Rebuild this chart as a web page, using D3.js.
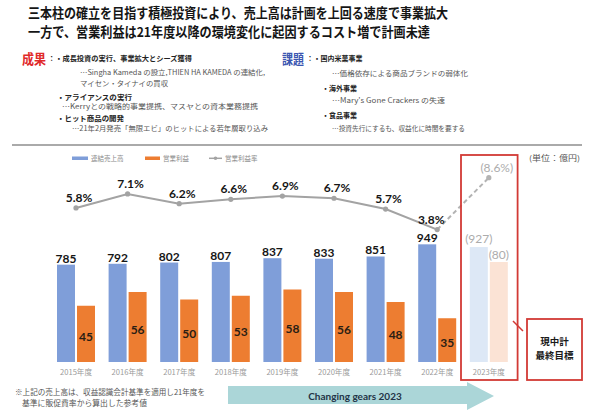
<!DOCTYPE html>
<html lang="ja">
<head>
  <meta charset="UTF-8">
  <title>売上高・営業利益の推移</title>
  <script src="https://cdn.jsdelivr.net/npm/d3@7"></script>
  <style>
    html, body { margin: 0; padding: 0; background: #fff; }
  </style>
</head>
<body>
<div id="grafica"></div>

<script>
// datos
const years     = ['2015年度', '2016年度', '2017年度', '2018年度', '2019年度', '2020年度', '2021年度', '2022年度', '2023年度']
const sales     = [785, 792, 802, 807, 837, 833, 851, 949, 927]
const opProfit  = [45, 56, 50, 53, 58, 56, 48, 35, 80]
const opMargin  = [5.8, 7.1, 6.2, 6.6, 6.9, 6.7, 5.7, 3.8, 8.6]
const planYear  = '2023年度'
const legendLabels = ['連結売上高', '営業利益', '営業利益率']

const jp  = '"Noto Sans CJK JP", "Noto Sans", sans-serif'
const num = 'Lato, "Liberation Sans", sans-serif'

const colBlue = '#7f9ed9', colOrange = '#ed7d31'
const colBlueLight = '#dde8f6', colOrangeLight = '#fbe3d5'
const colLine = '#a3a3a3', colRed = '#d23a35'

svg = d3.select('#grafica')
  .append('svg')
  .attr('width', 590)
  .attr('height', 411)
  .style('display', 'block')

function txt(x, y, s, size, weight, fill, len, family) {
  const t = svg.append('text')
    .attr('x', x).attr('y', y)
    .attr('font-family', family || jp)
    .attr('font-size', size)
    .attr('font-weight', weight)
    .attr('fill', fill)
    .text(s)
  if (len) t.attr('textLength', len).attr('lengthAdjust', 'spacingAndGlyphs')
  return t
}

// header
txt(28, 18, '三本柱の確立を目指す積極投資により、売上高は計画を上回る速度で事業拡大', 13.5, 700, '#151515', 420)
txt(28, 37, '一方で、営業利益は21年度以降の環境変化に起因するコスト増で計画未達', 13.5, 700, '#151515', 402)

txt(22, 64, '成果', 13.5, 700, '#e02a2a', 24)
txt(48, 61, '：・成長投資の実行、事業拡大とシーズ獲得', 7.3, 700, '#222', 144)
txt(80, 75, '…Singha Kameda の設立,THIEN HA KAMEDA の連結化,', 7.2, 400, '#555', 185)
txt(80, 86, 'マイセン・タイナイの買収', 7.3, 400, '#555', 88)
txt(57, 100, '・アライアンスの実行', 7.3, 700, '#222', 75)
txt(62, 109, '…Kerryとの戦略的事業提携、マスヤとの資本業務提携', 7.2, 400, '#555', 196)
txt(57, 121, '・ヒット商品の開発', 7.3, 700, '#222', 67)
txt(72, 131, '…21年2月発売「無限エビ」のヒットによる若年層取り込み', 7.2, 400, '#555', 196)

txt(282, 64, '課題', 13.5, 700, '#3a56b0', 22)
txt(306.5, 61, '：・国内米菓事業', 7.3, 700, '#222', 56)
txt(332, 76, '…価格依存による商品ブランドの弱体化', 7.2, 400, '#555', 136)
txt(322, 91, '・海外事業', 7.3, 700, '#222', 35)
txt(332, 103, '…Mary\'s Gone Crackers の失速', 7.2, 400, '#555', 113)
txt(322, 118, '・食品事業', 7.3, 700, '#222', 35)
txt(332, 131, '…投資先行にするも、収益化に時間を要する', 7.2, 400, '#555', 133)

svg.append('line')
  .attr('x1', 12).attr('x2', 582).attr('y1', 145).attr('y2', 145)
  .attr('stroke', '#8e8e8e').attr('stroke-width', 1.6)

// legend
const lg = svg.append('g').attr('font-family', jp).attr('font-size', 6.5).attr('fill', '#8a8a8a')
lg.append('rect').attr('x', 72).attr('y', 156.5).attr('width', 16).attr('height', 3.5).attr('fill', colBlue)
lg.append('text').attr('x', 91).attr('y', 160.5).text(legendLabels[0])
lg.append('rect').attr('x', 145).attr('y', 156.5).attr('width', 15).attr('height', 3.5).attr('fill', colOrange)
lg.append('text').attr('x', 163).attr('y', 160.5).text(legendLabels[1])
lg.append('line').attr('x1', 209).attr('x2', 222).attr('y1', 158.3).attr('y2', 158.3).attr('stroke', colLine).attr('stroke-width', 1.5)
lg.append('circle').attr('cx', 215.5).attr('cy', 158.3).attr('r', 1.8).attr('fill', colLine)
lg.append('text').attr('x', 225).attr('y', 160.5).text(legendLabels[2])

txt(529, 161, '(単位：億円)', 7.5, 400, '#555', 51)

// scales
const rows = years.map((y, i) => ({ year: y, sales: sales[i], op: opProfit[i], pct: opMargin[i], plan: y === planYear }))

x = d3.scaleBand().domain(years).range([50.2, 514.6]).padding(0)
xs = d3.scaleBand().domain(['sales', 'op']).range([6.8, 44.8]).paddingInner(0.1)
ySales = d3.scaleLinear().domain([0, 1000]).range([362, 238])
yOp = d3.scaleLinear().domain([0, 100]).range([362, 237])
yPct = d3.scaleLinear().domain([0, 10]).range([270.6, 162.6])

const cx = d => x(d.year) + x.bandwidth() / 2

// year axis
const xAxisCall = d3.axisBottom(x).tickSize(0).tickPadding(0)
const ax = svg.append('g')
  .attr('transform', 'translate(0, 370)')
  .call(xAxisCall)
ax.select('.domain').remove()
ax.selectAll('text')
  .attr('font-family', jp)
  .attr('font-size', 7.6)
  .attr('fill', '#9a9a9a')
  .attr('dy', '0.7em')

// bars
g = svg.append('g')

g.selectAll('rect.sales')
  .data(rows)
  .enter()
  .append('rect')
    .attr('class', 'sales')
    .attr('x', d => x(d.year) + xs('sales'))
    .attr('y', d => ySales(d.sales))
    .attr('width', xs.bandwidth())
    .attr('height', d => ySales(0) - ySales(d.sales))
    .attr('fill', d => d.plan ? colBlueLight : colBlue)

g.selectAll('rect.op')
  .data(rows)
  .enter()
  .append('rect')
    .attr('class', 'op')
    .attr('x', d => x(d.year) + xs('op'))
    .attr('y', d => yOp(d.op))
    .attr('width', xs.bandwidth())
    .attr('height', d => yOp(0) - yOp(d.op))
    .attr('fill', d => d.plan ? colOrangeLight : colOrange)

// bar labels
g.selectAll('text.sales')
  .data(rows)
  .enter()
  .append('text')
    .attr('x', d => x(d.year) + xs('sales') + xs.bandwidth() / 2)
    .attr('y', d => ySales(d.sales) - (d.plan ? 4 : 2))
    .attr('text-anchor', 'middle')
    .attr('font-family', num)
    .attr('font-size', 12)
    .attr('font-weight', d => d.plan ? 400 : 700)
    .attr('fill', d => d.plan ? '#acacac' : '#161616')
    .text(d => d.plan ? '(' + d.sales + ')' : d.sales)

g.selectAll('text.op')
  .data(rows)
  .enter()
  .append('text')
    .attr('x', d => x(d.year) + xs('op') + xs.bandwidth() / 2)
    .attr('y', d => d.plan ? yOp(d.op) - 3 : (yOp(d.op) + yOp(0)) / 2 + 7)
    .attr('text-anchor', 'middle')
    .attr('font-family', num)
    .attr('font-size', 12)
    .attr('font-weight', d => d.plan ? 400 : 700)
    .attr('fill', d => d.plan ? '#acacac' : '#2a1e14')
    .text(d => d.plan ? '(' + d.op + ')' : d.op)

// margin line
const actual = rows.filter(d => !d.plan)
const planRow = rows.find(d => d.plan)
const lineGen = d3.line().x(cx).y(d => yPct(d.pct))

g.append('path')
  .datum(actual)
  .attr('d', lineGen)
  .attr('fill', 'none')
  .attr('stroke', colLine)
  .attr('stroke-width', 2)

g.append('path')
  .datum([actual[actual.length - 1], planRow])
  .attr('d', lineGen)
  .attr('fill', 'none')
  .attr('stroke', '#b3b3b3')
  .attr('stroke-width', 2)
  .attr('stroke-dasharray', '4.5,3')

g.selectAll('circle.pt')
  .data(rows)
  .enter()
  .append('circle')
    .attr('cx', cx)
    .attr('cy', d => yPct(d.pct))
    .attr('r', 2.6)
    .attr('fill', d => d.plan ? '#b3b3b3' : colLine)

g.selectAll('text.pct')
  .data(rows)
  .enter()
  .append('text')
    .attr('x', (d, i) => cx(d) + (i === actual.length - 1 ? -6 : (d.plan ? 8 : 3)))
    .attr('y', d => yPct(d.pct) - 6)
    .attr('text-anchor', 'middle')
    .attr('font-family', num)
    .attr('font-size', 12)
    .attr('font-weight', d => d.plan ? 400 : 700)
    .attr('fill', d => d.plan ? '#acacac' : '#161616')
    .text(d => d.plan ? '(' + d.pct.toFixed(1) + '%)' : d.pct.toFixed(1) + '%')

// plan boxes
const bx = x(planYear) - 2
svg.append('rect')
  .attr('x', bx).attr('y', 155)
  .attr('width', x.bandwidth() + 5).attr('height', 225)
  .attr('fill', 'none').attr('stroke', colRed).attr('stroke-width', 1.8)

svg.append('line')
  .attr('x1', 513).attr('y1', 321).attr('x2', 523).attr('y2', 331)
  .attr('stroke', colRed).attr('stroke-width', 1.5)

svg.append('rect')
  .attr('x', 527).attr('y', 319)
  .attr('width', 55).attr('height', 61)
  .attr('fill', 'none').attr('stroke', colRed).attr('stroke-width', 1.8)

txt(554.5, 345, '現中計', 9.5, 700, '#1a1a1a').attr('text-anchor', 'middle')
txt(554.5, 359, '最終目標', 9.5, 700, '#1a1a1a').attr('text-anchor', 'middle')

// footnote
txt(15, 395, '※上記の売上高は、収益認識会計基準を適用し21年度を', 7.5, 400, '#555', 190)
txt(22, 406, '基準に販促費率から算出した参考値', 7.5, 400, '#555', 125)

// arrow
svg.append('path')
  .attr('d', 'M228,386 L467,386 L467,382 L494,396 L467,410 L467,404 L228,404 Z')
  .attr('fill', '#abd6d8')

txt(355, 399.5, 'Changing gears 2023', 10, 700, '#1f3447', null, num).attr('text-anchor', 'middle')
</script>
</body>
</html>
